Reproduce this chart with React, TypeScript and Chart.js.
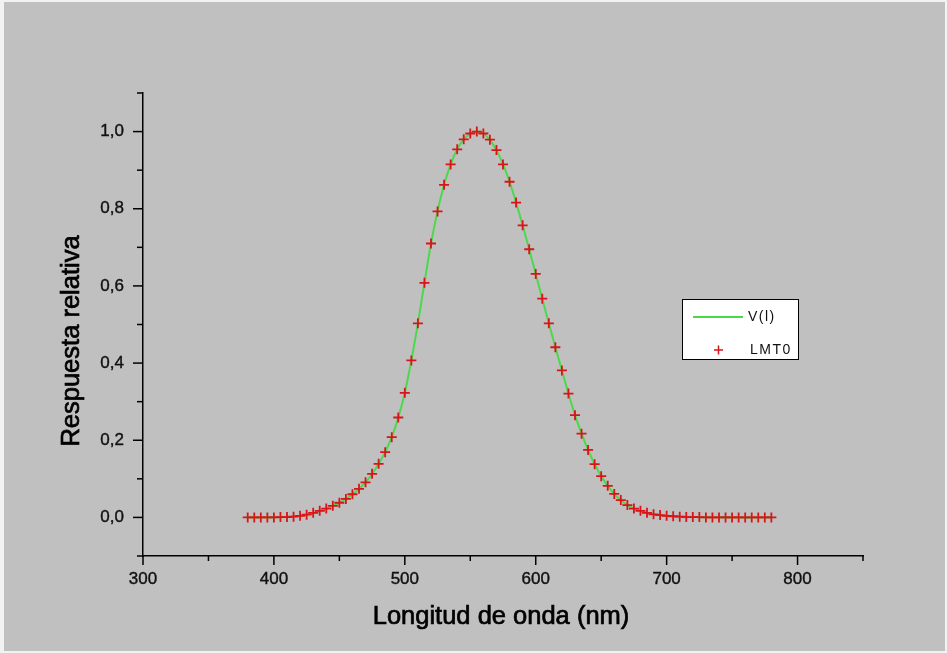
import React, { useEffect, useRef } from 'react';
import { Chart, registerables } from 'chart.js';

Chart.register(...registerables);

// ---- Data ----
const wavelengths = [
  380, 385, 390, 395, 400, 405, 410, 415, 420, 425,
  430, 435, 440, 445, 450, 455, 460, 465, 470, 475,
  480, 485, 490, 495, 500, 505, 510, 515, 520, 525,
  530, 535, 540, 545, 550, 555, 560, 565, 570, 575,
  580, 585, 590, 595, 600, 605, 610, 615, 620, 625,
  630, 635, 640, 645, 650, 655, 660, 665, 670, 675,
  680, 685, 690, 695, 700, 705, 710, 715, 720, 725,
  730, 735, 740, 745, 750, 755, 760, 765, 770, 775, 780,
];

const vLambda = [
  0.00004, 0.00006, 0.00012, 0.00022, 0.0004, 0.00064, 0.0012, 0.0022, 0.004, 0.0073,
  0.0116, 0.0168, 0.023, 0.0298, 0.038, 0.048, 0.06, 0.0739, 0.091, 0.1126,
  0.139, 0.1693, 0.208, 0.2586, 0.323, 0.4073, 0.503, 0.6082, 0.71, 0.7932,
  0.862, 0.9149, 0.954, 0.9803, 0.995, 1.0, 0.995, 0.9786, 0.952, 0.9154,
  0.87, 0.8163, 0.757, 0.6949, 0.631, 0.5668, 0.503, 0.4412, 0.381, 0.321,
  0.265, 0.217, 0.175, 0.1382, 0.107, 0.0816, 0.061, 0.0446, 0.032, 0.0232,
  0.017, 0.0119, 0.0082, 0.0057, 0.0041, 0.0029, 0.0021, 0.0015, 0.001, 0.0007,
  0.0005, 0.0004, 0.0002, 0.0002, 0.0001, 0.0001, 0.0001, 0.00004, 0.00003, 0.00002, 0.00002,
];

const lmt0 = [
  0.0, 0.0, 0.0, 0.0, 0.0, 0.001, 0.001, 0.002, 0.004, 0.007,
  0.012, 0.017, 0.023, 0.030, 0.038, 0.048, 0.060, 0.074, 0.091, 0.113,
  0.139, 0.169, 0.208, 0.259, 0.323, 0.407, 0.503, 0.608, 0.710, 0.793,
  0.862, 0.915, 0.954, 0.980, 0.995, 1.000, 0.995, 0.979, 0.952, 0.915,
  0.870, 0.816, 0.757, 0.695, 0.631, 0.567, 0.503, 0.441, 0.381, 0.321,
  0.265, 0.217, 0.175, 0.138, 0.107, 0.082, 0.061, 0.045, 0.032, 0.023,
  0.017, 0.012, 0.008, 0.006, 0.004, 0.003, 0.002, 0.001, 0.001, 0.001,
  0.0, 0.0, 0.0, 0.0, 0.0, 0.0, 0.0, 0.0, 0.0, 0.0, 0.0,
];

const seriesLabels = ['V(l)', 'LMT0'];
const xTitle = 'Longitud de onda (nm)';
const yTitle = 'Respuesta relativa';
const xRange = [300, 850];
const yRange = [-0.1, 1.1];

// ---- Styles ----
const FONT = '"Liberation Sans", Arial, Helvetica, sans-serif';
const GREEN = '#4cd84c';
const RED = '#d81418';
const BG = '#c0c0c0';

const decorPlugin = {
  id: 'decor',
  afterDraw(chart: any) {
    const ctx: CanvasRenderingContext2D = chart.ctx;
    const xs = chart.scales.x;
    const ys = chart.scales.y;
    const area = chart.chartArea;
    ctx.save();
    ctx.strokeStyle = '#000';
    ctx.lineWidth = 1.5;
    // x ticks (major labelled, minor unlabelled)
    xs.ticks.forEach((t: any) => {
      const px = xs.getPixelForValue(t.value);
      const len = t.label !== '' ? 9 : 5;
      ctx.beginPath();
      ctx.moveTo(px, area.bottom);
      ctx.lineTo(px, area.bottom + len);
      ctx.stroke();
    });
    ys.ticks.forEach((t: any) => {
      const py = ys.getPixelForValue(t.value);
      const len = t.label !== '' ? 10 : 6;
      ctx.beginPath();
      ctx.moveTo(area.left, py);
      ctx.lineTo(area.left - len, py);
      ctx.stroke();
    });

    // axis titles
    ctx.fillStyle = '#000';
    ctx.strokeStyle = '#000';
    ctx.lineWidth = 0.7;
    ctx.font = `25.5px ${FONT}`;
    ctx.textAlign = 'center';
    ctx.textBaseline = 'alphabetic';
    const xc = (xs.left + xs.right) / 2 - 2;
    ctx.fillText(xTitle, xc, 624);
    ctx.strokeText(xTitle, xc, 624);
    ctx.translate(79, 341);
    ctx.rotate(-Math.PI / 2);
    ctx.fillText(yTitle, 0, 0);
    ctx.strokeText(yTitle, 0, 0);
    ctx.restore();

    // legend box
    const ds = chart.data.datasets;
    const bx = 682, by = 299, bw = 116, bh = 60;
    ctx.save();
    ctx.fillStyle = '#ffffff';
    ctx.fillRect(bx, by, bw, bh);
    ctx.strokeStyle = '#000';
    ctx.lineWidth = 1;
    ctx.strokeRect(bx + 0.5, by + 0.5, bw, bh);
    // line sample
    ctx.strokeStyle = ds[0].borderColor;
    ctx.lineWidth = 2;
    ctx.beginPath();
    ctx.moveTo(693, 317);
    ctx.lineTo(743, 317);
    ctx.stroke();
    // plus sample
    ctx.strokeStyle = ds[1].borderColor;
    ctx.lineWidth = 1.5;
    ctx.beginPath();
    ctx.moveTo(714, 350);
    ctx.lineTo(723, 350);
    ctx.moveTo(718.5, 345.5);
    ctx.lineTo(718.5, 354.5);
    ctx.stroke();
    ctx.fillStyle = '#111';
    ctx.font = `14px ${FONT}`;
    (ctx as any).letterSpacing = '1.5px';
    ctx.textAlign = 'left';
    ctx.textBaseline = 'middle';
    ctx.fillText(ds[0].label, 748, 317);
    ctx.fillText(ds[1].label, 750, 350);
    ctx.restore();
  },
};

export default function App() {
  const canvasRef = useRef<HTMLCanvasElement | null>(null);

  useEffect(() => {
    const canvas = canvasRef.current;
    if (!canvas) return;
    const chart = new Chart(canvas, {
      type: 'scatter',
      data: {
        datasets: [
          {
            label: seriesLabels[0],
            data: wavelengths.map((w, i) => ({ x: w, y: vLambda[i] })),
            showLine: true,
            borderColor: GREEN,
            backgroundColor: GREEN,
            borderWidth: 2,
            pointRadius: 0,
            cubicInterpolationMode: 'monotone',
            order: 1,
          },
          {
            label: seriesLabels[1],
            data: wavelengths.map((w, i) => ({ x: w, y: lmt0[i] })),
            showLine: false,
            pointStyle: 'cross',
            pointRadius: 5,
            borderColor: RED,
            backgroundColor: RED,
            pointBorderWidth: 1.8,
            order: 0,
          },
        ],
      },
      options: {
        responsive: false,
        animation: false,
        events: [],
        layout: { padding: { left: 0, top: 93, right: 84, bottom: 0 } },
        plugins: {
          legend: { display: false },
          tooltip: { enabled: false },
        },
        scales: {
          x: {
            type: 'linear',
            min: xRange[0],
            max: xRange[1],
            afterFit: (s: any) => { s.height = 97; },
            grid: { drawOnChartArea: false, drawTicks: true, tickLength: 9, tickColor: 'rgba(0,0,0,0)' },
            border: { display: true, color: '#000', width: 1.5 },
            ticks: {
              stepSize: 50,
              autoSkip: false,
              maxRotation: 0,
              padding: 4,
              color: '#111',
              textStrokeColor: '#111',
              textStrokeWidth: 0.4,
              font: { family: FONT, size: 17 },
              callback: (v: any) => (Math.round(v) % 100 === 0 ? String(Math.round(v)) : ''),
            },
            title: { display: false, text: xTitle },
          },
          y: {
            type: 'linear',
            min: yRange[0],
            max: yRange[1],
            afterFit: (s: any) => { s.width = 143; },
            grid: { drawOnChartArea: false, drawTicks: true, tickLength: 10, tickColor: 'rgba(0,0,0,0)' },
            border: { display: true, color: '#000', width: 1.5 },
            ticks: {
              stepSize: 0.1,
              autoSkip: false,
              padding: 9,
              color: '#111',
              textStrokeColor: '#111',
              textStrokeWidth: 0.4,
              font: { family: FONT, size: 17 },
              callback: (v: any) => {
                const k = Math.round(v * 10);
                return k % 2 === 0 ? (k / 10).toFixed(1).replace('.', ',') : '';
              },
            },
            title: { display: false, text: yTitle },
          },
        },
      },
      plugins: [decorPlugin],
    } as any);
    return () => chart.destroy();
  }, []);

  return (
    <div style={{ position: 'fixed', left: 0, top: 0, width: 947, height: 653, background: '#f2f2f2' }}>
      <div style={{ position: 'absolute', left: 4, top: 2, right: 2, bottom: 2, background: BG }} />
      <canvas
        ref={canvasRef}
        width={947}
        height={653}
        style={{ position: 'absolute', left: 0, top: 0, width: 947, height: 653, display: 'block' }}
      />
    </div>
  );
}
